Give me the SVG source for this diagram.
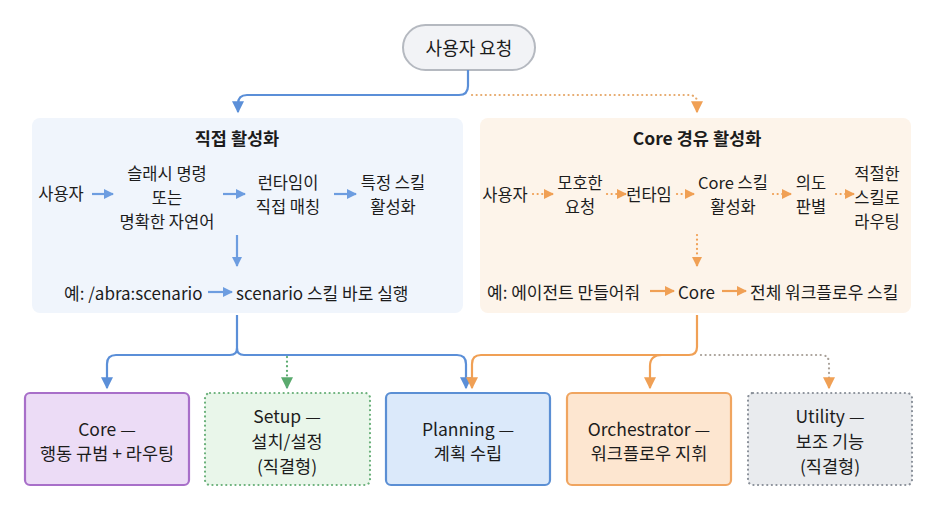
<svg xmlns="http://www.w3.org/2000/svg" width="937" height="511" viewBox="0 0 937 511">
<defs>
<marker id="hb" viewBox="0 0 10 10" refX="9" refY="5" markerWidth="14" markerHeight="12" markerUnits="userSpaceOnUse" orient="auto"><path d="M0,0 L10,5 L0,10 Z" fill="#5b8fd8"/></marker>
<marker id="ho" viewBox="0 0 10 10" refX="9" refY="5" markerWidth="14" markerHeight="12" markerUnits="userSpaceOnUse" orient="auto"><path d="M0,0 L10,5 L0,10 Z" fill="#f0a055"/></marker>
<marker id="hg" viewBox="0 0 10 10" refX="9" refY="5" markerWidth="14" markerHeight="12" markerUnits="userSpaceOnUse" orient="auto"><path d="M0,0 L10,5 L0,10 Z" fill="#5aaa6e"/></marker>
<marker id="sb" viewBox="0 0 10 10" refX="9" refY="5" markerWidth="11" markerHeight="10" markerUnits="userSpaceOnUse" orient="auto"><path d="M0,0 L10,5 L0,10 Z" fill="#6d9de0"/></marker>
<marker id="so" viewBox="0 0 10 10" refX="9" refY="5" markerWidth="11" markerHeight="10" markerUnits="userSpaceOnUse" orient="auto"><path d="M0,0 L10,5 L0,10 Z" fill="#f0a055"/></marker>
</defs>
<style>
text{font-family:"Noto Sans CJK KR","Noto Sans",sans-serif;fill:#1c1c1c;text-anchor:middle;dominant-baseline:central}
.t{font-size:17.5px;font-weight:700}
.r{font-size:16.5px}
.e{font-size:17px}
.n{font-size:17.5px}
.l{text-anchor:start}
.cb{fill:none;stroke:#5b8fd8;stroke-width:2.2}
.co{fill:none;stroke:#f0a055;stroke-width:2.2}
.dot{fill:none;stroke-width:2.2;stroke-linecap:round;stroke-dasharray:0.1 4.5}
.ab{fill:none;stroke:#6d9de0;stroke-width:2.2}
.ao{fill:none;stroke:#f0a055;stroke-width:2.2}
</style>
<rect width="937" height="511" fill="#ffffff"/>

<g id="panel-direct">
<rect x="32" y="118" width="431" height="195" rx="8" fill="#f0f5fc"/>
<text class="t" x="237" y="137">직접 활성화</text>
<text class="r" x="61" y="193">사용자</text>
<text class="r" x="167" y="173"><tspan x="167" y="173">슬래시 명령</tspan><tspan x="167" y="197">또는</tspan><tspan x="167" y="221">명확한 자연어</tspan></text>
<text class="r" x="288" y="182"><tspan x="288" y="182">런타임이</tspan><tspan x="288" y="206">직접 매칭</tspan></text>
<text class="r" x="393" y="182"><tspan x="393" y="182">특정 스킬</tspan><tspan x="393" y="206">활성화</tspan></text>
<text class="e l" x="64" y="292">예: /abra:scenario</text>
<text class="e l" x="236" y="292">scenario 스킬 바로 실행</text>
<path class="ab" d="M92,194 H113" marker-end="url(#sb)"/>
<path class="ab" d="M223,194 H245" marker-end="url(#sb)"/>
<path class="ab" d="M334,194 H356" marker-end="url(#sb)"/>
<path class="ab" d="M237,235 V266" marker-end="url(#sb)"/>
<path class="ab" d="M208,292 H232" marker-end="url(#sb)"/>
</g>

<g id="panel-core">
<rect x="480" y="118" width="431" height="195" rx="8" fill="#fdf4ea"/>
<text class="t" x="697" y="137">Core 경유 활성화</text>
<text class="r" x="505" y="194">사용자</text>
<text class="r" x="580" y="182"><tspan x="580" y="182">모호한</tspan><tspan x="580" y="206">요청</tspan></text>
<text class="r" x="649" y="194">런타임</text>
<text class="r" x="733" y="182"><tspan x="733" y="182">Core 스킬</tspan><tspan x="733" y="206">활성화</tspan></text>
<text class="r" x="811" y="182"><tspan x="811" y="182">의도</tspan><tspan x="811" y="206">판별</tspan></text>
<text class="r" x="877" y="173"><tspan x="877" y="173">적절한</tspan><tspan x="877" y="197">스킬로</tspan><tspan x="877" y="221">라우팅</tspan></text>
<text class="e l" x="487" y="291">예: 에이전트 만들어줘</text>
<text class="e l" x="678" y="291">Core</text>
<text class="e l" x="750" y="291">전체 워크플로우 스킬</text>
<path class="dot" stroke="#f0a055" d="M533,194 H546"/>
<path class="ao" d="M546,194 H553" marker-end="url(#so)"/>
<path class="dot" stroke="#f0a055" d="M607,194 H619"/>
<path class="ao" d="M619,194 H626" marker-end="url(#so)"/>
<path class="dot" stroke="#f0a055" d="M677,194 H687"/>
<path class="ao" d="M687,194 H694" marker-end="url(#so)"/>
<path class="dot" stroke="#f0a055" d="M773,194 H784"/>
<path class="ao" d="M784,194 H791" marker-end="url(#so)"/>
<path class="dot" stroke="#f0a055" d="M836,194 H847"/>
<path class="ao" d="M847,194 H854" marker-end="url(#so)"/>
<path class="dot" stroke="#f0a055" d="M697,235 V258"/>
<path class="ao" d="M697,258 V266" marker-end="url(#so)"/>
<path class="ao" d="M650,291 H674" marker-end="url(#so)"/>
<path class="ao" d="M722,291 H746" marker-end="url(#so)"/>
</g>

<g id="node-request">
<rect x="403" y="25" width="132" height="45" rx="22.5" fill="#f2f3f6" stroke="#b5b9c0" stroke-width="2"/>
<text x="469" y="47" style="font-size:18px">사용자 요청</text>
</g>

<g id="node-core">
<rect x="25" y="393" width="164" height="92" rx="5" fill="#ecdcf6" stroke="#a86fc9" stroke-width="2.2"/>
<text class="n" x="107" y="428">Core —</text>
<text class="n" x="107" y="452">행동 규범 + 라우팅</text>
</g>
<g id="node-setup">
<rect x="205" y="393" width="165" height="92" rx="5" fill="#e9f6ea" stroke="#6ab07a" stroke-width="2.2" stroke-linecap="round" stroke-dasharray="0.1 4.5"/>
<text class="n" x="287" y="415">Setup —</text>
<text class="n" x="287" y="440">설치/설정</text>
<text class="n" x="287" y="465">(직결형)</text>
</g>
<g id="node-planning">
<rect x="386" y="393" width="164" height="92" rx="5" fill="#dbe9fa" stroke="#5b8fd4" stroke-width="2.2"/>
<text class="n" x="468" y="428">Planning —</text>
<text class="n" x="468" y="452">계획 수립</text>
</g>
<g id="node-orchestrator">
<rect x="567" y="393" width="164" height="92" rx="5" fill="#fde6d0" stroke="#f0a560" stroke-width="2.2"/>
<text class="n" x="649" y="428">Orchestrator —</text>
<text class="n" x="649" y="452">워크플로우 지휘</text>
</g>
<g id="node-utility">
<rect x="748" y="393" width="164" height="92" rx="5" fill="#e9ebee" stroke="#8a9099" stroke-width="2.2" stroke-linecap="round" stroke-dasharray="0.1 4.5"/>
<text class="n" x="830" y="415">Utility —</text>
<text class="n" x="830" y="440">보조 기능</text>
<text class="n" x="830" y="465">(직결형)</text>
</g>

<g id="connectors">
<path class="cb" stroke="#6a8fc4" d="M468,70 V86 Q468,95 459,95 H247 Q238,95 238,104 V112" marker-end="url(#hb)"/>
<path class="dot" stroke="#e6a86a" d="M472,95 H688 Q697,95 697,102 V104"/>
<path class="co" d="M697,104 V112" marker-end="url(#ho)"/>
<path class="cb" d="M237,315 V348 Q237,355 230,355 H116 Q107,355 107,364 V388" marker-end="url(#hb)"/>
<path class="cb" d="M237,348 Q237,355 244,355 H457 Q466,355 466,364 V388" marker-end="url(#hb)"/>
<path class="dot" stroke="#5aaa6e" d="M287,357 V380"/>
<path class="cb" stroke="#5aaa6e" d="M287,380 V388" marker-end="url(#hg)"/>
<path class="co" d="M697,315 V347 Q697,355 689,355 H481 Q472,355 472,364 V388" marker-end="url(#ho)"/>
<path class="co" d="M662,355 Q650,355 650,366 V388" marker-end="url(#ho)"/>
<path class="dot" stroke="#a8a098" d="M701,355 H821 Q829,355 829,363 V380"/>
<path class="co" d="M829,380 V388" marker-end="url(#ho)"/>
</g>
</svg>
